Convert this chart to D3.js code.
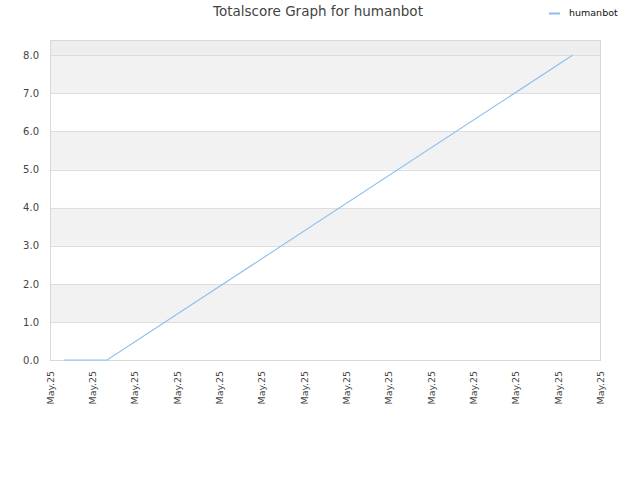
<!DOCTYPE html>
<html>
<head>
<meta charset="utf-8">
<script src="https://cdn.jsdelivr.net/npm/d3@7"></script>
<style>
  body { margin: 0; background: #fff; }
  text { font-family: "DejaVu Sans", sans-serif; }
</style>
</head>
<body>
<div id="chart"></div>
<script>
// Data (x in tick units)
const seriesName = "humanbot";
const xValues = [0.33, 1.35, 12.35];
const scoreValues = [0, 0, 8.0];
const xTickLabels = ["May.25", "May.25", "May.25", "May.25", "May.25", "May.25", "May.25",
                     "May.25", "May.25", "May.25", "May.25", "May.25", "May.25", "May.25"];
const yTicks = [0, 1, 2, 3, 4, 5, 6, 7, 8];

const margin = {top: 40, right: 40, bottom: 120, left: 50},
      width = 640 - margin.left - margin.right,
      height = 480 - margin.top - margin.bottom;

const svg = d3.select("#chart")
  .append("svg")
    .attr("width", 640)
    .attr("height", 480);

const g = svg.append("g")
    .attr("transform", `translate(${margin.left},${margin.top})`);

const x = d3.scaleLinear()
  .domain([0, xTickLabels.length - 1])
  .range([0, width]);

const y = d3.scaleLinear()
  .domain([0, 8.4])
  .range([height, 0]);

// Alternating bands
const bands = yTicks.map((t, i) => ({lo: t, hi: i === yTicks.length - 1 ? 8.4 : t + 1}));
g.selectAll(".band")
  .data(bands)
  .enter()
  .append("rect")
    .attr("x", 0)
    .attr("width", width)
    .attr("y", d => y(d.hi))
    .attr("height", d => y(d.lo) - y(d.hi))
    .attr("fill", d => d.lo === 8 ? "#eeeeee" : (d.lo % 2 === 1 ? "#f2f2f2" : "#ffffff"));

// Grid lines
g.selectAll(".grid")
  .data(yTicks)
  .enter()
  .append("line")
    .attr("x1", 0)
    .attr("x2", width)
    .attr("y1", d => Math.round(y(d)) + 0.5)
    .attr("y2", d => Math.round(y(d)) + 0.5)
    .attr("stroke", "#dddddd");

// Frame
g.append("rect")
  .attr("x", 0.5)
  .attr("y", 0.5)
  .attr("width", width)
  .attr("height", height)
  .attr("fill", "none")
  .attr("stroke", "#d8d8d8");

// Y axis
const yAxis = g.append("g")
  .call(d3.axisLeft(y).tickValues(yTicks).tickFormat(d3.format(".1f")).tickSize(0).tickPadding(11));
yAxis.select(".domain").remove();
yAxis.selectAll("text")
  .attr("fill", "#444")
  .style("font-size", "10px");

// X axis
const xAxis = g.append("g")
  .attr("transform", `translate(0,${height})`)
  .call(d3.axisBottom(x).tickValues(d3.range(xTickLabels.length))
    .tickFormat(i => xTickLabels[i]).tickSize(0));
xAxis.select(".domain").remove();
xAxis.selectAll("text")
  .attr("fill", "#444")
  .style("font-size", "9.5px")
  .style("text-anchor", "end")
  .attr("transform", "rotate(-90)")
  .attr("x", -11)
  .attr("y", 0)
  .attr("dy", "0.35em");

// Line
const line = d3.line()
  .x((d, i) => x(xValues[i]))
  .y(d => y(d));

g.append("path")
  .datum(scoreValues)
  .attr("fill", "none")
  .attr("stroke", "#88bff5")
  .attr("stroke-width", 1.1)
  .attr("d", line);

// Title
svg.append("text")
  .attr("x", 318)
  .attr("y", 16)
  .attr("text-anchor", "middle")
  .attr("fill", "#444")
  .style("font-size", "13.5px")
  .text("Totalscore Graph for " + seriesName);

// Legend
svg.append("line")
  .attr("x1", 549)
  .attr("x2", 560)
  .attr("y1", 13.5)
  .attr("y2", 13.5)
  .attr("stroke", "#88bff5")
  .attr("stroke-width", 2);

svg.append("text")
  .attr("x", 569)
  .attr("y", 16)
  .attr("fill", "#111")
  .style("font-size", "9.5px")
  .text(seriesName);
</script>
</body>
</html>
